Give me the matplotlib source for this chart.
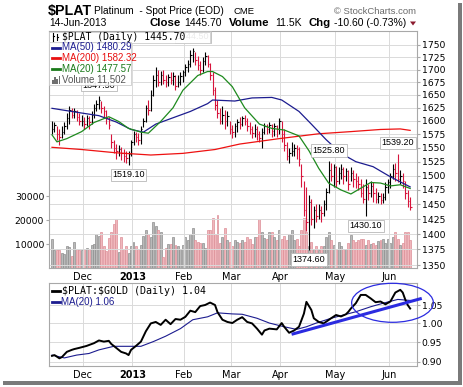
import numpy as np
import pandas as pd
import matplotlib
matplotlib.use("Agg")
import matplotlib.pyplot as plt
from matplotlib.lines import Line2D
from matplotlib.patches import Rectangle, Ellipse, Polygon
from matplotlib.ticker import NullLocator

# ---------------- data ----------------
holidays = ["2012-11-22", "2012-12-25", "2013-01-01", "2013-01-21",
            "2013-02-18", "2013-03-29", "2013-05-27"]
days = pd.bdate_range("2012-11-14", "2013-06-14")
days = days[~days.isin(pd.to_datetime(holidays))]

high = [1600, 1598, 1590, 1585, 1590, 1598, 1615, 1628, 1625, 1624, 1620, 1615,
        1612, 1608, 1612, 1610, 1618, 1632, 1640, 1647.5, 1638, 1628, 1620, 1608,
        1575, 1565, 1558, 1556, 1552, 1548, 1545, 1545,
        1565, 1582, 1580, 1578, 1590, 1605, 1630, 1640, 1660, 1690, 1705, 1700,
        1698, 1700, 1690, 1692, 1695, 1695, 1690, 1690, 1695,
        1700, 1712, 1720, 1740, 1744.5, 1735, 1728, 1718, 1725, 1736, 1730, 1713,
        1695, 1665, 1640, 1625, 1628, 1620, 1618,
        1600, 1592, 1596, 1604, 1608, 1610, 1612, 1605, 1598, 1590, 1595, 1590,
        1582, 1586, 1596, 1594, 1598, 1595, 1596, 1592,
        1606, 1600, 1585, 1560, 1550, 1560, 1558, 1555, 1552, 1520, 1490, 1480,
        1466, 1460, 1448, 1450, 1450, 1448, 1458, 1478, 1525.8, 1522,
        1520, 1518, 1515, 1520, 1515, 1514, 1510, 1515, 1510, 1505, 1500, 1495,
        1485, 1495, 1485, 1490, 1488, 1478, 1472, 1470, 1470, 1488,
        1495, 1505, 1520, 1522, 1539.2, 1510, 1505, 1490, 1475, 1462]
low = [1575, 1580, 1565, 1555, 1568, 1575, 1585, 1595, 1605, 1605, 1600, 1592,
       1590, 1585, 1590, 1585, 1595, 1605, 1618, 1622, 1615, 1605, 1595, 1585,
       1550, 1540, 1530, 1535, 1528, 1525, 1522, 1519.1,
       1535, 1555, 1560, 1555, 1558, 1588, 1598, 1612, 1618, 1648, 1665, 1668,
       1670, 1672, 1665, 1668, 1672, 1670, 1660, 1665, 1670,
       1675, 1688, 1695, 1705, 1715, 1710, 1700, 1690, 1695, 1710, 1705, 1680,
       1650, 1620, 1605, 1595, 1595, 1585, 1590,
       1575, 1568, 1570, 1580, 1585, 1590, 1592, 1582, 1575, 1568, 1570, 1565,
       1560, 1550, 1575, 1575, 1578, 1570, 1572, 1570,
       1575, 1560, 1545, 1528, 1522, 1535, 1535, 1530, 1518, 1480, 1430, 1405,
       1374.6, 1415, 1410, 1420, 1425, 1420, 1430, 1440, 1470, 1490,
       1480, 1480, 1485, 1495, 1485, 1490, 1475, 1490, 1480, 1478, 1475, 1462,
       1452, 1430.1, 1458, 1462, 1455, 1452, 1452, 1450, 1452, 1458,
       1470, 1478, 1495, 1490, 1488, 1485, 1478, 1460, 1445, 1440]
close = [1585, 1592, 1575, 1570, 1580, 1590, 1605, 1620, 1612, 1618, 1608, 1600,
         1600, 1595, 1605, 1598, 1612, 1625, 1632, 1640, 1625, 1618, 1605, 1592,
         1560, 1550, 1545, 1548, 1540, 1535, 1532, 1538,
         1560, 1575, 1570, 1565, 1585, 1600, 1625, 1620, 1650, 1680, 1690, 1675,
         1690, 1680, 1675, 1685, 1680, 1688, 1668, 1675, 1688,
         1695, 1705, 1712, 1730, 1738, 1720, 1710, 1700, 1718, 1728, 1712, 1690,
         1660, 1630, 1615, 1600, 1612, 1600, 1610,
         1585, 1580, 1590, 1598, 1595, 1605, 1600, 1590, 1585, 1578, 1585, 1575,
         1568, 1580, 1590, 1585, 1592, 1582, 1590, 1585,
         1600, 1575, 1555, 1535, 1540, 1545, 1550, 1548, 1530, 1500, 1440, 1420,
         1455, 1425, 1440, 1430, 1440, 1435, 1450, 1472, 1510, 1500,
         1515, 1490, 1505, 1512, 1500, 1508, 1485, 1505, 1495, 1490, 1485, 1470,
         1460, 1480, 1470, 1482, 1470, 1460, 1465, 1458, 1462, 1480,
         1488, 1500, 1512, 1505, 1495, 1500, 1490, 1470, 1456.3, 1445.7]
volume = [11900, 7700, 7700, 7600, 6200, 6000, 9000, 8800, 5000, 11000, 8000, 7500,
          7700, 8000, 8300, 8000, 9500, 10000, 14300, 13500, 15000, 9000, 7000, 12300,
          15000, 18300, 20400, 6700, 12800, 8000, 9000, 6400,
          9000, 11000, 9000, 8000, 9500, 13500, 16000, 14300, 13000, 19000, 17500, 16000,
          15000, 4500, 8300, 10000, 10000, 12800, 9500, 9000, 8000,
          9500, 12800, 11500, 14000, 16700, 11500, 11000, 10500, 10500, 8300, 15800, 16000,
          20800, 14000, 22000, 10500, 13000, 16500, 11500,
          11000, 9000, 11700, 11000, 10500, 11600, 11000, 12900, 12000, 10000, 12900, 13000,
          20300, 15000, 12500, 12000, 15200, 15000, 12800, 11600,
          16000, 12000, 13300, 11600, 14300, 16000, 11600, 12000, 9000, 16000, 20800, 15000,
          9000, 11000, 8000, 9000, 7500, 9000, 9000, 12900, 15000, 11600,
          9500, 8100, 11000, 9000, 8000, 8100, 10500, 13600, 11600, 11000, 11600, 12000,
          12000, 9400, 11600, 10000, 10500, 9400, 11200, 11600, 12000, 10500,
          12000, 10500, 12900, 15000, 12000, 9400, 10500, 15000, 15000, 11502]

ma50_idx = [0, 12, 19, 26, 32, 37, 42, 49, 56, 63, 65, 74, 81, 89, 93, 100, 105,
            111, 117, 123, 130, 137, 145]
ma50 = [1624, 1615, 1610, 1598, 1584, 1579, 1594, 1606, 1618, 1633, 1640, 1638,
        1644, 1645, 1640, 1618, 1594, 1565, 1540, 1525, 1516, 1498, 1480.29]
ma200_idx = [0, 12, 26, 40, 53, 66, 76, 92, 108, 121, 133, 141, 145]
ma200 = [1551, 1547, 1541, 1537, 1540, 1547, 1557, 1567, 1576, 1580, 1584, 1585, 1582.32]
ma20_idx = [0, 2, 6, 12, 17, 23, 27, 31, 36, 39, 44, 49, 53, 59, 63, 65, 69, 73, 78,
            84, 89, 94, 100, 104, 108, 112, 117, 121, 125, 129, 133, 137, 141, 145]
ma20 = [1574, 1561, 1567, 1580, 1597, 1608, 1599, 1586, 1579, 1577, 1599, 1625, 1659,
        1688, 1696, 1696, 1686, 1666, 1625, 1594, 1586, 1583, 1572, 1545, 1513, 1487,
        1475, 1468, 1478, 1488, 1487, 1482, 1484, 1477.57]

ratio_idx = [0, 1, 3, 4, 6, 8, 9, 11, 14, 17, 19, 21, 23, 24, 26, 28, 30, 31, 32, 34,
             36, 38, 40, 42, 44, 46, 48, 50, 52, 54, 56, 58, 60, 62, 64, 66, 67, 69, 71, 73,
             75, 77, 79, 81, 83, 85, 86, 88, 91, 93, 94, 96, 98, 100, 102, 103, 105, 106,
             108, 110, 113, 115, 117, 119, 120, 121, 123, 125, 127, 129, 131, 133, 135,
             137, 139, 141, 142, 143, 144, 145]
ratio = [0.915, 0.917, 0.909, 0.912, 0.925, 0.93, 0.932, 0.935, 0.94, 0.947,
         0.954, 0.951, 0.953, 0.945, 0.935, 0.925, 0.921, 0.917, 0.93, 0.94,
         0.951, 0.978, 0.999, 1.003, 0.995, 1.009, 0.997, 1.011, 1.009, 1.017,
         1.034, 1.03, 1.047, 1.05, 1.057, 1.05, 1.03, 1.009, 1.003, 1.0,
         1.009, 1.016, 1.003, 0.999, 0.985, 0.969, 0.98, 0.985, 0.983, 1.0,
         0.99, 0.974, 0.98, 0.99, 1.026, 1.059, 1.036, 1.013, 1.003, 0.999,
         1.013, 1.022, 1.018, 1.024, 1.031, 1.04, 1.055, 1.079, 1.079, 1.069,
         1.058, 1.06, 1.052, 1.06, 1.086, 1.094, 1.086, 1.066, 1.05, 1.04]
ratio_ma_idx = [0, 5, 10, 15, 19, 25, 30, 36, 41, 46, 52, 57, 63, 67, 73, 77, 83, 88,
                94, 99, 103, 107, 113, 118, 123, 129, 134, 140, 145]
ratio_ma = [0.917, 0.91, 0.917, 0.921, 0.93, 0.939, 0.939, 0.939, 0.951, 0.965,
            0.985, 1.009, 1.017, 1.028, 1.025, 1.024, 1.013, 1.0, 0.99, 0.983,
            0.99, 1.0, 1.013, 1.022, 1.031, 1.045, 1.055, 1.066, 1.063]

price_ticks = list(range(1350, 1751, 25))
vol_ticks = [10000, 20000, 30000]
ratio_ticks = [0.90, 0.95, 1.00, 1.05]

# labelled highs / lows: (bar index, which end)
extremes = [(19, "high"), (57, "high"), (31, "low"), (104, "low"),
            (112, "high"), (127, "low"), (140, "high")]

# hand drawn trend line on the ratio panel
trend_start = (97, 0.970)
trend_end = (149.7, 1.069)

# ---------------- figure ----------------
W, H = 464, 387
plt.rcParams['font.family'] = 'DejaVu Sans'
fig = plt.figure(figsize=(W / 100, H / 100), dpi=100)
fig.patch.set_facecolor('white')


def fx(x):
    return x / W


def fy(y):
    return 1 - y / H


def ftext(x, y, s, **kw):
    return fig.text(fx(x), fy(y), s, parse_math=False, **kw)


RED_BAR = '#d7143c'
NAVY = '#1c1c8f'
GRID = '#dadada'
SPINE = '#a8a8a8'
BLUE = '#2b2be0'

n = len(close)
x = np.arange(n)
c = np.array(close)
prev = np.concatenate([[c[0]], c[:-1]])
up = c >= prev

d = days[:n]
month_first = [i for i in range(1, n) if d[i].month != d[i - 1].month]
month_pos = [i + 0.5 for i in month_first]
month_lab = [str(d[i].year) if d[i].month == 1 else d[i].strftime('%b') for i in month_first]

L, R = 49, 417
xlim = ((L - 52) / 2.47, (R - 52) / 2.47)

# main panel: volume underneath, price on top
rect = [fx(L), fy(268), (R - L) / W, (268 - 31) / H]
axv = fig.add_axes(rect)
ax = fig.add_axes(rect, sharex=axv)
ax.patch.set_alpha(0)

vface = np.where(up, '#b9b9b9', '#f0b7bc')
vedge = np.where(up, '#8e8e8e', '#dc8f97')
axv.bar(x, volume, width=0.8, color=vface, edgecolor=vedge, linewidth=0.5)
axv.set_ylim(0, 98750)
axv.set_yticks(vol_ticks, [str(v) for v in vol_ticks])
axv.tick_params(axis='y', labelsize=6.7, length=2, pad=1.5, color=SPINE, left=True, right=False)
axv.tick_params(axis='x', bottom=False, labelbottom=False)
for s in axv.spines.values():
    s.set_visible(False)

bar_col = np.where(up, 'black', RED_BAR)
ax.vlines(x, low, high, colors=bar_col, lw=0.8, zorder=3)
ax.hlines(close, x, x + 0.6, colors=bar_col, lw=0.8, zorder=3)
ax.plot(ma200_idx, ma200, color='#ee1111', lw=0.9, zorder=4)
ax.plot(ma50_idx, ma50, color=NAVY, lw=0.9, zorder=4)
ax.plot(ma20_idx, ma20, color='#1e8a1e', lw=0.9, zorder=4)

ax.set_yscale('log')
ax.set_ylim(1345.3, 1779)
ax.set_yticks(price_ticks, [str(t) for t in price_ticks])
ax.yaxis.set_minor_locator(NullLocator())
ax.yaxis.tick_right()
ax.tick_params(axis='y', labelsize=6.7, length=2, pad=1.5, color=SPINE)
ax.set_xlim(*xlim)
ax.set_xticks(month_pos, month_lab)
ax.tick_params(axis='x', length=0, pad=3, labelsize=7)
ax.grid(True, color=GRID, lw=0.7)
ax.set_axisbelow(True)
for s in ax.spines.values():
    s.set_color(SPINE)
    s.set_linewidth(0.8)

for i, which in extremes:
    val = high[i] if which == "high" else low[i]
    off = 7.8 if which == "high" else -7.0
    ax.annotate(f"{val:.2f}", xy=(i, val), xytext=(0, off), textcoords='offset points',
                ha='center', va='center', fontsize=6.5, family='Liberation Sans', zorder=6,
                bbox=dict(boxstyle='square,pad=0.18', fc='white', ec='#b8b8b8', lw=0.6))

# ratio panel
ax2 = fig.add_axes([fx(L), fy(366), (R - L) / W, (366 - 283) / H], sharex=axv)
ax2.plot(ratio_ma_idx, ratio_ma, color=NAVY, lw=0.8, zorder=3)
ax2.plot(ratio_idx, ratio, color='black', lw=1.4, zorder=4)
ax2.set_yscale('log')
ax2.set_ylim(0.8903, 1.1144)
ax2.set_yticks(ratio_ticks, [f"{t:.2f}" for t in ratio_ticks])
ax2.yaxis.set_minor_locator(NullLocator())
ax2.yaxis.tick_right()
ax2.tick_params(axis='y', labelsize=6.7, length=2, pad=1.5, color=SPINE)
ax2.tick_params(axis='x', length=0, pad=3, labelsize=7)
ax2.grid(True, color=GRID, lw=0.7)
ax2.set_axisbelow(True)
for s in ax2.spines.values():
    s.set_color(SPINE)
    s.set_linewidth(0.8)
ax2.plot([trend_start[0], trend_end[0]], [trend_start[1], trend_end[1]],
         color=BLUE, lw=2.2, clip_on=False, zorder=5, solid_capstyle='butt')
ax2.add_patch(Ellipse(((392.5 - L) / (R - L), (366 - 302.8) / 83), 81.7 / (R - L), 39 / 83,
                      transform=ax2.transAxes, fill=False, ec=BLUE, lw=0.9,
                      clip_on=False, zorder=5))

for a in (ax, ax2):
    for lab in a.get_xticklabels():
        if lab.get_text().isdigit():
            lab.set_fontweight('bold')

# ---------------- header ----------------
ftext(48, 15, "$PLAT", fontsize=10.3, fontweight='bold', family='Liberation Sans')
ftext(94, 14, "Platinum  - Spot Price (EOD)", fontsize=7.3, family='Liberation Sans')
ftext(233, 14, "CME", fontsize=6.8, family='Liberation Sans')
ftext(416, 14, "\u00a9 StockCharts.com", fontsize=6.8, family='Liberation Sans',
      color='#6a6a6a', ha='right')

chg = close[-1] - close[-2]
pct = chg / close[-2] * 100
ftext(49, 26.3, d[-1].strftime('%d-%b-%Y'), fontsize=7.4, family='Liberation Sans')
ftext(149, 26.3, "Close", fontsize=8.2, fontweight='bold', family='Liberation Sans')
ftext(184, 26.3, f"{close[-1]:.2f}", fontsize=7.5, family='Liberation Sans')
ftext(229, 26.3, "Volume", fontsize=8.2, fontweight='bold', family='Liberation Sans')
ftext(275, 26.3, f"{volume[-1] / 1000:.1f}K", fontsize=7.5, family='Liberation Sans')
ftext(309, 26.3, "Chg", fontsize=8.2, fontweight='bold', family='Liberation Sans')
ftext(334, 26.3, f"{chg:.2f} ({pct:.2f}%)", fontsize=7.5, family='Liberation Sans')
fig.patches.append(Polygon([[fx(410), fy(21.5)], [fx(416), fy(21.5)], [fx(413), fy(25.5)]],
                           closed=True, transform=fig.transFigure, fc='#8b1a2e', ec='none'))

# ---------------- legends ----------------
fig.patches.append(Rectangle((fx(49.5), fy(42.5)), 160 / W, 11 / H, transform=fig.transFigure,
                             fc='white', ec='#c8c8c8', lw=0.6, alpha=0.92))
fig.patches.append(Rectangle((fx(49.5), fy(85)), 82 / W, 42.5 / H, transform=fig.transFigure,
                             fc='white', ec='#c8c8c8', lw=0.6, alpha=0.92))
for xx, y0, y1 in [(53, 33, 41), (57, 34, 40)]:
    fig.add_artist(Line2D([fx(xx), fx(xx)], [fy(y0), fy(y1)], transform=fig.transFigure,
                          color='black', lw=0.8))
    fig.add_artist(Line2D([fx(xx), fx(xx + 1.5)], [fy(y0 + 3), fy(y0 + 3)],
                          transform=fig.transFigure, color='black', lw=0.8))
ftext(62, 36.8, f"$PLAT (Daily) {close[-1]:.2f}", fontsize=7, family='DejaVu Sans Mono',
      va='center')
leg = [(47.5, f"MA(50) {ma50[-1]:.2f}", NAVY),
       (58, f"MA(200) {ma200[-1]:.2f}", '#e81010'),
       (68.8, f"MA(20) {ma20[-1]:.2f}", '#1a7a1a')]
for yy, s, col in leg:
    fig.add_artist(Line2D([fx(52), fx(60)], [fy(yy), fy(yy)], transform=fig.transFigure,
                          color=col, lw=2.0))
    ftext(62, yy, s, fontsize=7, family='Liberation Sans', color=col, va='center')
for k, hh in enumerate([4, 7, 5, 8]):
    fig.patches.append(Rectangle((fx(52 + k * 2.2), fy(83.5)), 1.6 / W, hh / H,
                                 transform=fig.transFigure, fc='#707070', ec='none'))
ftext(62, 79.5, f"Volume {volume[-1]:,}", fontsize=7, family='Liberation Sans',
      color='#555555', va='center')

fig.add_artist(Line2D([fx(52), fx(60)], [fy(290.7), fy(290.7)], transform=fig.transFigure,
                      color='black', lw=2.0))
ftext(62, 290.7, f"$PLAT:$GOLD (Daily) {ratio[-1]:.2f}", fontsize=7.2,
      family='DejaVu Sans Mono', va='center')
fig.add_artist(Line2D([fx(52), fx(60)], [fy(301.7), fy(301.7)], transform=fig.transFigure,
                      color=NAVY, lw=2.0))
ftext(61, 301.7, f"MA(20) {ratio_ma[-1]:.2f}", fontsize=7, family='Liberation Sans',
      color=NAVY, va='center')

# card shadow
fig.patches.append(Rectangle((fx(458), fy(385)), 4 / W, 382 / H, transform=fig.transFigure,
                             fc='#7a7a7a', ec='none'))
fig.patches.append(Rectangle((fx(3), fy(385)), 459 / W, 4 / H, transform=fig.transFigure,
                             fc='#7a7a7a', ec='none'))

fig.savefig("out.png", dpi=100)
